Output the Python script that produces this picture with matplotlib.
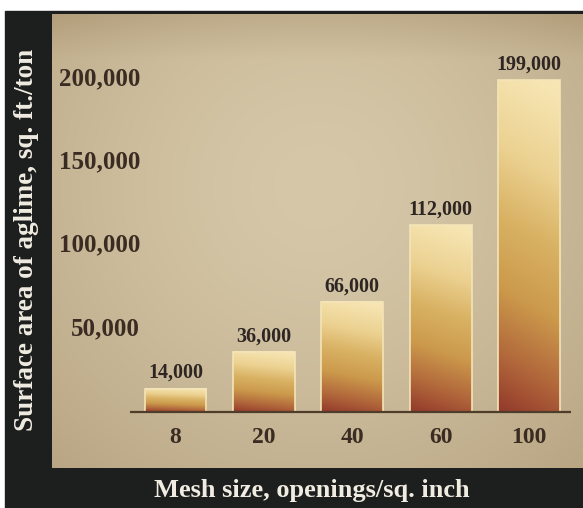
import numpy as np
import matplotlib
matplotlib.use('Agg')
import matplotlib.pyplot as plt
from matplotlib.colors import LinearSegmentedColormap
from matplotlib.patches import Rectangle

# surface area of aglime by mesh size
mesh_sizes = ["8", "20", "40", "60", "100"]
surface_area = [14000, 36000, 66000, 112000, 199000]
y_ticks = [50000, 100000, 150000, 200000]

plt.rcParams['font.family'] = ['Liberation Serif', 'DejaVu Serif']
plt.rcParams['font.weight'] = 'bold'

W, H = 583, 508
fig = plt.figure(figsize=(W / 100, H / 100), dpi=100, facecolor='white')

# dark frame behind the panel
fig.patches.append(Rectangle((5 / W, 0), 1 - 5 / W, (H - 11) / H,
                             transform=fig.transFigure, color='#1c1f1d', zorder=-5))

panel = [52 / W, 40 / H, 531 / W, 454 / H]
ax = fig.add_axes(panel)
ax.set_zorder(1)
ax.set_facecolor('none')
for s in ax.spines.values():
    s.set_visible(False)
ax.set_xticks([])
ax.set_yticks([])

# mottled beige backdrop
ny, nx = 200, 240
yy, xx = np.mgrid[0:1:ny * 1j, 0:1:nx * 1j]
r = np.sqrt(((xx - 0.5) / 0.75) ** 2 + ((yy - 0.62) / 0.85) ** 2)
shade = np.clip(r, 0, 1) ** 1.6 * 0.7 + np.clip((yy - 0.9) / 0.1, 0, 1) * 0.35
light = np.array([213, 199, 168]) / 255
dark = np.array([172, 150, 114]) / 255
bg = light[None, None, :] * (1 - shade[..., None]) + dark[None, None, :] * shade[..., None]
ax.imshow(bg, extent=[0, 1, 0, 1], transform=ax.transAxes, aspect='auto',
          origin='lower', zorder=0, interpolation='bilinear')

x = np.arange(len(mesh_sizes))
bars = ax.bar(x, surface_area, width=0.70, color='none', edgecolor='#f4e4b8',
              linewidth=1.2, zorder=3)

# vertical fade: red-brown at the foot, ochre in the middle, cream at the top
bar_cmap = LinearSegmentedColormap.from_list(
    'aglime', [(0.0, '#933a2b'), (0.15, '#b0653a'), (0.35, '#cc9a4c'),
               (0.55, '#d9b264'), (0.75, '#ecd292'), (1.0, '#f7e6b4')])
gy, gx = np.mgrid[0:1:100j, 0:1:40j]
grad = np.clip(gy * 0.92 + gx * 0.1, 0, 1)
for b in bars:
    x0, y0 = b.get_x(), b.get_y()
    ax.imshow(grad, cmap=bar_cmap, vmin=0, vmax=1, origin='lower', aspect='auto',
              extent=[x0, x0 + b.get_width(), y0, y0 + b.get_height()],
              zorder=2, interpolation='bilinear')
ax.set_xlim(-1.397, 4.61)
ax.set_ylim(-33566, 238566)

# value labels above bars
for xi, v in zip(x, surface_area):
    ax.annotate(f"{v:,}", (xi, v), xytext=(0, 4), textcoords='offset points',
                ha='center', va='bottom', fontsize=14.5, color='#2e2622', zorder=4)

# baseline
ax.plot([-0.52, 4.47], [0, 0], color='#4e3d2a', lw=1.6, zorder=4,
        solid_capstyle='butt')

# value axis labels inside panel
for t in y_ticks:
    ax.text(-0.40, t, f"{t:,}", ha='right', va='center', fontsize=18,
            color='#3a2c22')

# category labels under baseline
for xi, lab in zip(x, mesh_sizes):
    ax.text(xi, -15000, lab, ha='center', va='center', fontsize=17, color='#3a2c22')

fig.text(312 / W, 1 - 490 / H, "Mesh size, openings/sq. inch", ha='center',
         va='center', fontsize=19, color='#f1ece2')
fig.text(27 / W, 1 - 240 / H, "Surface area of aglime, sq. ft./ton", ha='center',
         va='center', rotation=90, fontsize=19.5, color='#f1ece2')

fig.savefig('out.png', dpi=100, facecolor='white')
